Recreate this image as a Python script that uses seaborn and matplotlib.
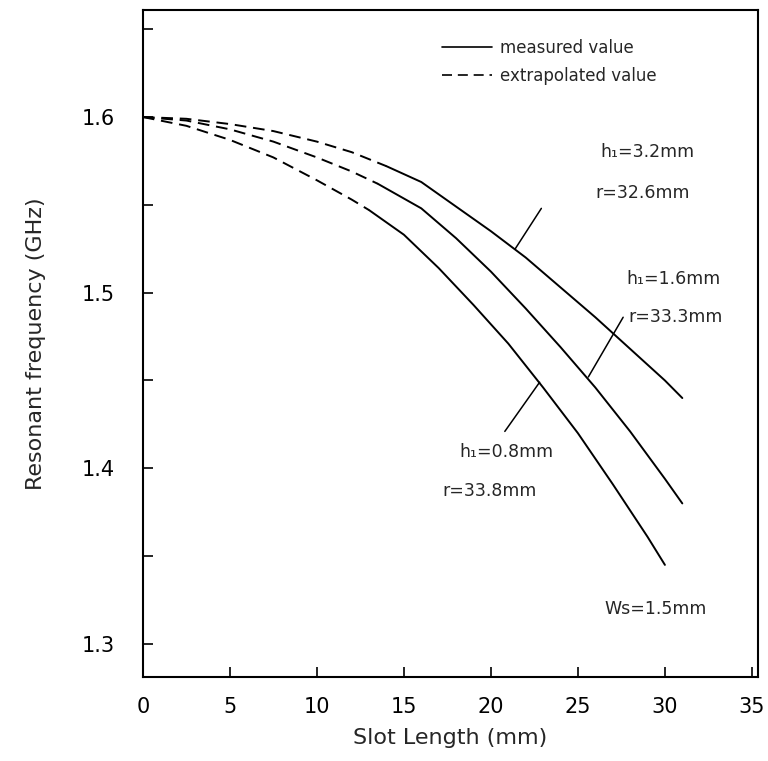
import numpy as np
import pandas as pd
import matplotlib
matplotlib.use('Agg')
import matplotlib.pyplot as plt
from matplotlib.lines import Line2D
import seaborn as sns

# slot length (mm) and resonant frequency (GHz) for each substrate
x_h32 = [0, 2.5, 5, 7.5, 10, 12, 14, 16, 18, 20, 22, 24, 26, 28, 30, 31]
y_h32 = [1.600, 1.599, 1.596, 1.592, 1.586, 1.580, 1.572, 1.563, 1.549, 1.535,
         1.520, 1.503, 1.486, 1.468, 1.450, 1.440]
x_h16 = [0, 2.5, 5, 7.5, 10, 12, 13.5, 16, 18, 20, 22, 24, 26, 28, 30, 31]
y_h16 = [1.600, 1.598, 1.593, 1.586, 1.577, 1.569, 1.562, 1.548, 1.531, 1.512,
         1.491, 1.469, 1.446, 1.421, 1.394, 1.380]
x_h08 = [0, 2.5, 5, 7.5, 10, 12, 13, 15, 17, 19, 21, 23, 25, 27, 29, 30]
y_h08 = [1.600, 1.595, 1.587, 1.577, 1.564, 1.553, 1.547, 1.533, 1.514, 1.493,
         1.471, 1.446, 1.420, 1.391, 1.361, 1.345]
# measured data starts at these slot lengths, below is extrapolated
measured_from = [14, 13.5, 13]
curve_names = ["h3.2", "h1.6", "h0.8"]

x_ticks = [0, 5, 10, 15, 20, 25, 30, 35]
y_ticks = [1.3, 1.4, 1.5, 1.6]
y_minor = [1.35, 1.45, 1.55, 1.65]

rows = []
for name, xs, ys, x0 in zip(curve_names, [x_h32, x_h16, x_h08],
                            [y_h32, y_h16, y_h08], measured_from):
    for x, y in zip(xs, ys):
        if x <= x0:
            rows.append([name + "_e", "extrapolated value", x, y])
        if x >= x0:
            rows.append([name + "_m", "measured value", x, y])
df = pd.DataFrame(rows, columns=["seg", "kind", "x", "y"])

sns.set_style("ticks")
plt.rcParams['font.family'] = ['DejaVu Sans']

fig, ax = plt.subplots(figsize=(7.68, 7.61), dpi=100)
fig.subplots_adjust(left=0.186, right=0.987, bottom=0.110, top=0.987)

sns.lineplot(data=df, x="x", y="y", style="kind", units="seg", estimator=None,
             color="black", lw=1.4, sort=False, legend=False,
             style_order=["measured value", "extrapolated value"],
             dashes={"measured value": "", "extrapolated value": (6, 3.5)}, ax=ax)

ax.set_xlim(0, 35.35)
ax.set_ylim(1.281, 1.661)
ax.set_xticks(x_ticks)
ax.set_yticks(y_ticks)
ax.set_yticks(y_minor, minor=True)
ax.set_yticklabels([f"{v:.1f}" for v in y_ticks])
ax.tick_params(axis="both", which="both", direction="in", length=7, width=1.2,
               labelsize=15, colors="black")
ax.tick_params(axis="y", pad=20)
ax.tick_params(axis="x", pad=14)
for sp in ax.spines.values():
    sp.set_linewidth(1.5)
    sp.set_color("black")

ax.set_xlabel("Slot Length (mm)", fontsize=16, labelpad=8)
ax.set_ylabel("Resonant frequency (GHz)", fontsize=16, labelpad=26)

handles = [Line2D([], [], color="black", lw=1.2),
           Line2D([], [], color="black", lw=1.2, dashes=(6, 3.5))]
ax.legend(handles, ["measured value", "extrapolated value"], frameon=False,
          loc="upper left", bbox_to_anchor=(0.486, 0.957), borderpad=0,
          borderaxespad=0, fontsize=12, handlelength=3.0, handletextpad=0.5,
          labelspacing=0.6)

line_kw = dict(arrowprops=dict(arrowstyle="-", color="black", lw=1.1,
                               shrinkA=0, shrinkB=0))
ax.annotate("", xy=(21.4, 1.525), xytext=(22.9, 1.548), **line_kw)
ax.text(26.3, 1.580, "h₁=3.2mm", fontsize=12.5, va="center")
ax.text(26.0, 1.557, "r=32.6mm", fontsize=12.5, va="center")

ax.annotate("", xy=(25.6, 1.452), xytext=(27.6, 1.486), **line_kw)
ax.text(27.8, 1.508, "h₁=1.6mm", fontsize=12.5, va="center")
ax.text(27.9, 1.486, "r=33.3mm", fontsize=12.5, va="center")

ax.annotate("", xy=(22.8, 1.449), xytext=(20.8, 1.421), **line_kw)
ax.text(18.2, 1.409, "h₁=0.8mm", fontsize=12.5, va="center")
ax.text(17.2, 1.387, "r=33.8mm", fontsize=12.5, va="center")

ax.text(26.5, 1.320, "Ws=1.5mm", fontsize=12.5, va="center")

fig.savefig("out.png", dpi=100)
